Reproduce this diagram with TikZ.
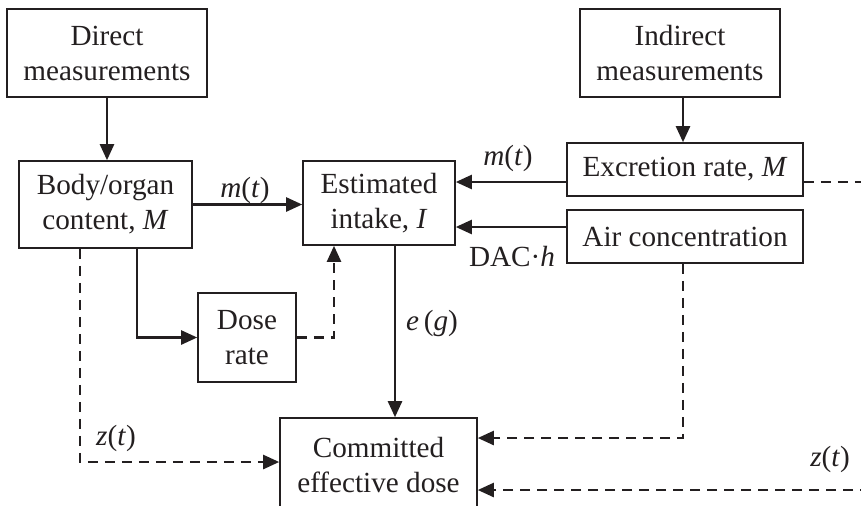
\documentclass[tikz,border=0pt]{standalone}
\usepackage{fontspec}
\setmainfont{Liberation Serif}
\usetikzlibrary{arrows.meta}
\definecolor{ink}{RGB}{35,31,32}

\begin{document}
\begin{tikzpicture}[x=0.5pt, y=-0.5pt, color=ink,
    box/.style={draw=ink, line width=0.8pt, align=center, inner sep=0pt,
        font=\fontsize{14.6}{17.5}\selectfont},
    flow/.style={line width=1.2pt, -{Triangle[length=8pt,width=7pt]}},
    feed/.style={flow, dash pattern=on 5pt off 3.5pt},
    lbl/.style={font=\fontsize{14.6}{17.5}\selectfont, inner sep=0pt}]
    \clip (0,0) rectangle (861,505);

    \node[box, minimum width=100pt, minimum height=44pt] (direct) at (107,53) {Direct\\measurements};
    \node[box, minimum width=100pt, minimum height=44pt] (indirect) at (680,53) {Indirect\\measurements};
    \node[box, minimum width=86.5pt, minimum height=43.5pt] (body) at (105.5,204.5) {Body/organ\\content, \textit{M}};
    \node[box, minimum width=76pt, minimum height=42pt] (est) at (379,203) {Estimated\\intake, \textit{I}};
    \node[box, minimum width=118pt, minimum height=26.5pt] (excr) at (685,169.5) {Excretion rate, \textit{M}};
    \node[box, minimum width=118pt, minimum height=26.5pt] (air) at (685,236.5) {Air concentration};
    \node[box, minimum width=49pt, minimum height=44.5pt] (dose) at (247,337.5) {Dose\\rate};
    \node[box, minimum width=98.5pt, minimum height=47pt] (comm) at (378.5,465) {Committed\\effective dose};

    % loose ends at the right border
    \coordinate (exout) at (870,182);
    \coordinate (zin) at (870,490);

    % solid paths
    \draw[flow] (direct.south) -- (direct.south |- body.north);
    \draw[flow] ([xshift=1.5pt]indirect.south) -- ([xshift=1.5pt]indirect.south |- excr.north);
    \draw[flow] (body.east) -- (body.east -| est.west);
    \draw[flow] ([yshift=-6.25pt]excr.west) -- ([yshift=-6.25pt]excr.west -| est.east);
    \draw[flow] ([yshift=4.75pt]air.west) -- ([yshift=4.75pt]air.west -| est.east);
    \draw[flow] ([xshift=15.75pt]body.south) |- (dose.west);
    \draw[flow] ([xshift=8pt]est.south) -- ([xshift=8pt]est.south |- comm.north);

    % dashed paths
    \draw[feed] (dose.east) -| ([xshift=-22.5pt]est.south);
    \draw[feed] ([xshift=-12.75pt]body.south) |- ([yshift=1.5pt]comm.west);
    \draw[feed] ([xshift=-1pt]air.south) |- ([yshift=13.5pt]comm.east);
    \draw[feed] (zin) -- (zin -| comm.east);
    \draw[feed, -] ([yshift=-6.25pt]excr.east) -- (exout);

    \node[lbl] (mleft) at (245,190) {\textit{m}(\textit{t})};
    \node[lbl] (mright) at (508,158) {\textit{m}(\textit{t})};
    \node[lbl] (dac) at (512,257) {DAC·\textit{h}};
    \node[lbl] (eg) at (432,323) {\textit{e}\,(\textit{g})};
    \node[lbl] (zleft) at (116,438) {\textit{z}(\textit{t})};
    \node[lbl] (zright) at (830,459) {\textit{z}(\textit{t})};
\end{tikzpicture}
\end{document}
